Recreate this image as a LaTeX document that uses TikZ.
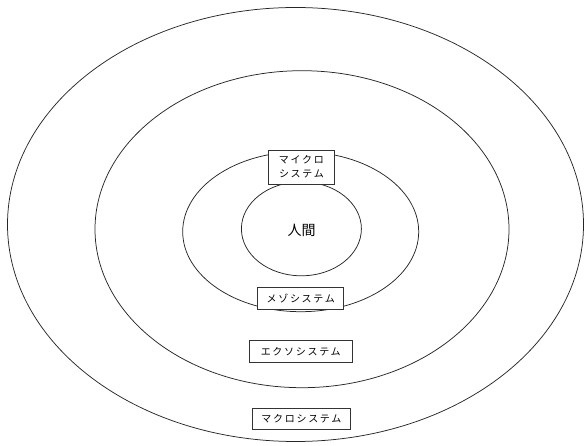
\documentclass[tikz,border=0pt]{standalone}
\usepackage{fontspec}
\newfontfamily\jpfont[LetterSpace=17]{Noto Sans CJK JP}
\newfontfamily\jpbig{Noto Sans CJK JP}
\begin{document}
\begin{tikzpicture}[x=1pt,y=-1pt,
  ring/.style={draw=black!85,line width=0.75pt},
  lbl/.style={draw=black!80,line width=0.7pt,fill=white,inner sep=0pt,
    font=\jpfont\fontsize{10}{14}\selectfont,align=center}]
\useasboundingbox (0,0) rectangle (584,446);
\draw[ring] (295.5,224.5) ellipse [x radius=288, y radius=217];
\draw[ring] (302,229.2) ellipse [x radius=207, y radius=158.5];
\draw[ring] (300.7,231.7) ellipse [x radius=118, y radius=80];
\draw[ring] (301.4,228.8) ellipse [x radius=60, y radius=47];
\node[font=\jpbig\fontsize{14}{16}\selectfont] (human) at (301.5,230) {人間};
\node[lbl,minimum width=66pt,minimum height=34pt] (micro) at (301.4,167) {マイクロ\\システム};
\node[lbl,minimum width=86pt,minimum height=21.6pt] (meso) at (300.7,298.5) {メゾシステム};
\node[lbl,minimum width=103.6pt,minimum height=21.3pt] (exo) at (300.7,351.3) {エクソシステム};
\node[lbl,minimum width=97.6pt,minimum height=20.7pt] (macro) at (301.4,418.7) {マクロシステム};
\end{tikzpicture}
\end{document}
